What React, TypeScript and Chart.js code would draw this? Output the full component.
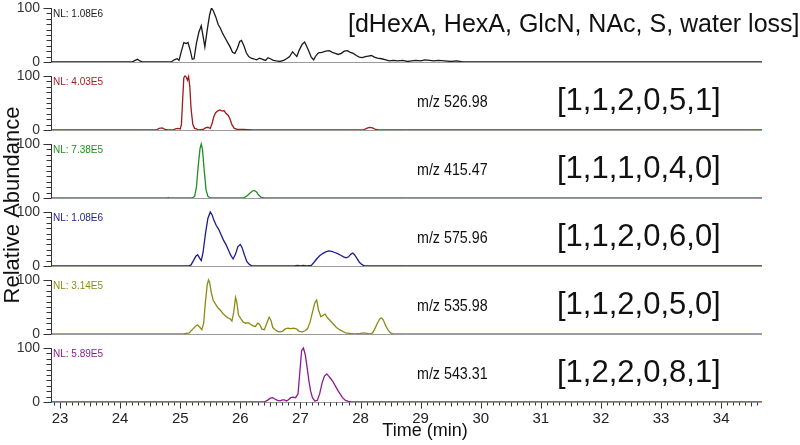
import React, { useEffect, useRef } from 'react';
import { Chart, registerables } from 'chart.js';

Chart.register(...registerables);

// ---- data ----
const xTicks = [23, 24, 25, 26, 27, 28, 29, 30, 31, 32, 33, 34];

const t1 = [22.85, 24.2, 24.25, 24.29, 24.33, 24.38, 24.85, 24.9, 24.95, 24.98, 25.02, 25.06, 25.1, 25.13, 25.17, 25.2, 25.23, 25.27, 25.31, 25.35, 25.38, 25.41, 25.45, 25.49, 25.52, 25.55, 25.59, 25.63, 25.67, 25.71, 25.75, 25.79, 25.83, 25.87, 25.91, 25.95, 25.99, 26.02, 26.06, 26.1, 26.14, 26.18, 26.22, 26.27, 26.32, 26.37, 26.42, 26.46, 26.5, 26.55, 26.6, 26.66, 26.72, 26.77, 26.82, 26.87, 26.9, 26.94, 26.98, 27.03, 27.07, 27.1, 27.14, 27.18, 27.22, 27.26, 27.3, 27.36, 27.42, 27.48, 27.53, 27.58, 27.63, 27.68, 27.73, 27.78, 27.83, 27.88, 27.93, 27.98, 28.03, 28.08, 28.13, 28.18, 28.23, 28.28, 28.35, 28.42, 28.48, 28.55, 28.62, 28.7, 28.78, 28.85, 28.92, 29.0, 29.07, 29.15, 29.22, 29.3, 29.4, 29.5, 29.6, 29.7, 34.68];
const v1 = [0, 0, 3, 5, 2, 0, 0, 4, 6, 3, 20, 36, 34, 36, 20, 5, 6, 35, 55, 67, 48, 28, 60, 88, 100, 95, 84, 70, 62, 52, 44, 36, 28, 18, 16, 25, 38, 40, 30, 17, 10, 7, 6, 4, 7, 5, 3, 8, 6, 3, 2, 1, 3, 6, 10, 19, 15, 10, 22, 33, 37, 30, 20, 9, 4, 12, 17, 18, 20, 21, 18, 16, 14, 16, 20, 21, 18, 16, 12, 9, 8, 10, 11, 12, 9, 7, 6, 4, 2, 3, 2, 3, 1, 2, 3, 2, 4, 3, 2, 3, 2, 1, 2, 0, 0];

const t2 = [22.85, 24.6, 24.65, 24.7, 24.75, 24.8, 24.88, 24.92, 24.96, 25.0, 25.02, 25.04, 25.06, 25.08, 25.1, 25.12, 25.14, 25.16, 25.18, 25.21, 25.24, 25.27, 25.3, 25.38, 25.42, 25.46, 25.5, 25.53, 25.56, 25.59, 25.62, 25.66, 25.7, 25.73, 25.76, 25.8, 25.83, 25.86, 25.9, 25.95, 26.05, 26.2, 28.05, 28.1, 28.15, 28.2, 28.25, 28.3, 34.68];
const v2 = [0, 0, 3, 4, 1, 0, 0, 2, 3, 2, 10, 55, 97, 100, 98, 92, 99, 80, 40, 10, 3, 2, 0, 1, 4, 5, 3, 12, 25, 32, 35, 37, 35, 36, 31, 27, 20, 10, 3, 1, 1, 0, 0, 3, 5, 4, 1, 0, 0];

const t3 = [22.85, 24.78, 24.8, 24.82, 25.2, 25.24, 25.27, 25.3, 25.33, 25.35, 25.37, 25.4, 25.43, 25.46, 25.5, 26.05, 26.1, 26.15, 26.2, 26.23, 26.27, 26.31, 26.35, 26.4, 34.68];
const v3 = [0, 0, 1, 0, 0, 3, 20, 60, 92, 100, 90, 50, 15, 3, 0, 0, 3, 8, 13, 14, 11, 5, 1, 0, 0];

const t4 = [22.85, 25.14, 25.18, 25.22, 25.26, 25.29, 25.32, 25.35, 25.38, 25.42, 25.46, 25.5, 25.53, 25.56, 25.6, 25.64, 25.68, 25.72, 25.76, 25.8, 25.84, 25.88, 25.92, 25.96, 26.0, 26.03, 26.07, 26.11, 26.15, 26.2, 26.9, 26.95, 27.0, 27.05, 27.1, 27.18, 27.22, 27.27, 27.32, 27.37, 27.42, 27.47, 27.52, 27.57, 27.62, 27.67, 27.72, 27.76, 27.8, 27.84, 27.87, 27.9, 27.94, 27.98, 28.03, 28.08, 34.68];
const v4 = [0, 0, 2, 10, 18, 21, 15, 10, 25, 60, 88, 100, 95, 85, 75, 68, 58, 48, 40, 30, 20, 13, 22, 36, 40, 34, 20, 8, 3, 0, 0, 1, 0, 1, 0, 1, 6, 13, 19, 23, 26, 28, 27, 25, 23, 20, 17, 15, 17, 22, 24, 21, 14, 7, 2, 0, 0];

const t5 = [22.85, 25.05, 25.1, 25.15, 25.2, 25.25, 25.29, 25.33, 25.36, 25.39, 25.42, 25.45, 25.47, 25.49, 25.52, 25.55, 25.59, 25.63, 25.67, 25.71, 25.75, 25.79, 25.83, 25.86, 25.89, 25.92, 25.94, 25.97, 26.01, 26.05, 26.09, 26.13, 26.17, 26.21, 26.25, 26.29, 26.32, 26.36, 26.4, 26.44, 26.48, 26.51, 26.54, 26.58, 26.62, 26.66, 26.7, 26.74, 26.79, 26.84, 26.89, 26.94, 26.98, 27.03, 27.08, 27.12, 27.16, 27.2, 27.24, 27.27, 27.3, 27.34, 27.38, 27.41, 27.45, 27.5, 27.55, 27.6, 27.65, 27.7, 27.75, 27.82, 27.9, 28.0, 28.05, 28.1, 28.15, 28.2, 28.24, 28.28, 28.32, 28.35, 28.38, 28.42, 28.46, 28.5, 28.55, 34.68];
const v5 = [0, 0, 1, 2, 8, 14, 17, 12, 8, 20, 60, 92, 100, 95, 75, 62, 55, 48, 44, 38, 34, 30, 28, 24, 40, 68, 60, 35, 28, 22, 20, 21, 18, 15, 14, 20, 18, 9, 8, 20, 31, 25, 12, 8, 5, 4, 5, 9, 11, 10, 11, 9, 5, 4, 6, 10, 22, 40, 58, 63, 45, 32, 35, 37, 30, 24, 18, 12, 8, 5, 2, 1, 0, 1, 2, 1, 0, 2, 10, 20, 28, 30, 26, 15, 7, 2, 0, 0];

const t6 = [22.85, 26.4, 26.45, 26.5, 26.54, 26.58, 26.62, 26.66, 26.7, 26.73, 26.77, 26.8, 26.84, 26.88, 26.92, 26.96, 26.99, 27.02, 27.05, 27.08, 27.11, 27.14, 27.17, 27.2, 27.24, 27.28, 27.32, 27.36, 27.4, 27.44, 27.47, 27.5, 27.54, 27.58, 27.62, 27.66, 27.7, 27.75, 27.8, 27.85, 34.68];
const v6 = [0, 0, 3, 7, 8, 5, 3, 2, 4, 4, 2, 4, 8, 9, 8, 15, 55, 95, 100, 88, 65, 40, 20, 8, 2, 3, 15, 35, 48, 52, 48, 44, 38, 30, 22, 15, 8, 3, 1, 0, 0];

const times = [t1, t2, t3, t4, t5, t6];
const values = [v1, v2, v3, v4, v5, v6];
const colors = ['#1a1a1a', '#9e1b1b', '#1f901f', '#1c1c8e', '#8c8c14', '#8e1b8e'];
const nlLabels = ['NL: 1.08E6', 'NL: 4.03E5', 'NL: 7.38E5', 'NL: 1.08E6', 'NL: 3.14E5', 'NL: 5.89E5'];
const mzLabels = ['', 'm/z 526.98', 'm/z 415.47', 'm/z 575.96', 'm/z 535.98', 'm/z 543.31'];
const compLabels = ['[dHexA, HexA, GlcN, NAc, S, water loss]', '[1,1,2,0,5,1]', '[1,1,1,0,4,0]', '[1,1,2,0,6,0]', '[1,1,2,0,5,0]', '[1,2,2,0,8,1]'];

const SANS = '"Liberation Sans", Arial, sans-serif';

const decorPlugin = {
  id: 'decor',
  afterDraw(chart: any) {
    const ctx = chart.ctx as CanvasRenderingContext2D;
    const area = chart.chartArea;
    ctx.save();
    // y axes
    for (let i = 0; i < 6; i++) {
      const s = chart.scales['y' + i];
      const x = Math.round(area.left) + 0.5;
      const yTop = s.getPixelForValue(100);
      const y0 = s.getPixelForValue(0);
      ctx.strokeStyle = '#333';
      ctx.lineWidth = 1;
      ctx.beginPath();
      ctx.moveTo(x, yTop);
      ctx.lineTo(x, y0);
      for (let v = 0; v <= 100; v += 10) {
        const y = Math.round(s.getPixelForValue(v)) + 0.5;
        const len = v === 0 || v === 100 ? 8 : 5;
        ctx.moveTo(x - len, y);
        ctx.lineTo(x, y);
      }
      ctx.stroke();

      // NL label
      ctx.fillStyle = i === 0 ? '#222' : colors[i];
      ctx.font = '10px ' + SANS;
      ctx.textBaseline = 'middle';
      ctx.textAlign = 'left';
      ctx.fillText(nlLabels[i], area.left + 2, yTop + 6);

      const mid = yTop + (y0 - yTop) * 0.48;
      ctx.fillStyle = '#111';
      if (i === 0) {
        ctx.font = '25px ' + SANS;
        ctx.fillText(compLabels[i], 348, yTop + 17);
      } else {
        ctx.save();
        ctx.translate(417, mid);
        ctx.scale(0.84, 1);
        ctx.font = '17px ' + SANS;
        ctx.fillText(mzLabels[i], 0, 0);
        ctx.restore();
        ctx.font = '31px ' + SANS;
        ctx.fillText(compLabels[i], 557, mid);
      }
    }
    // x minor ticks
    const xs = chart.scales.x;
    const yb = Math.round(area.bottom) + 0.5;
    ctx.strokeStyle = '#333';
    ctx.beginPath();
    for (let k = 229; k <= 346; k++) {
      const px = Math.round(xs.getPixelForValue(k / 10)) + 0.5;
      const len = k % 10 === 0 ? 6 : k % 5 === 0 ? 4 : 3;
      ctx.moveTo(px, yb);
      ctx.lineTo(px, yb + len);
    }
    ctx.stroke();

    // axis titles
    ctx.fillStyle = '#111';
    ctx.font = '18px ' + SANS;
    ctx.textAlign = 'center';
    ctx.textBaseline = 'middle';
    ctx.fillText('Time (min)', 425, 431);

    ctx.translate(13, 205);
    ctx.rotate(-Math.PI / 2);
    ctx.font = '22px ' + SANS;
    ctx.fillText('Relative Abundance', 0, 0);
    ctx.restore();
  },
};

export default function App() {
  const ref = useRef<HTMLCanvasElement | null>(null);
  useEffect(() => {
    if (!ref.current) return;
    const datasets = times.map((tt, i) => ({
      label: 'trace' + i,
      data: tt.map((x, j) => ({ x, y: values[i][j] })),
      yAxisID: 'y' + i,
      borderColor: colors[i],
      borderWidth: 1.3,
      pointRadius: 0,
      fill: false,
      tension: 0,
    }));
    const scales: any = {
      x: {
        type: 'linear',
        position: 'bottom',
        min: 22.85,
        max: 34.68,
        border: { display: false },
        grid: { display: false, drawTicks: false },
        ticks: { font: { size: 15, family: SANS }, color: '#222', padding: 8, maxRotation: 0, autoSkip: false },
        afterBuildTicks: (a: any) => { a.ticks = xTicks.map((v) => ({ value: v })); },
        afterFit: (s: any) => { s.height = 43; s.paddingLeft = 0; s.paddingRight = 0; },
      },
    };
    for (let i = 0; i < 6; i++) {
      scales['y' + i] = {
        type: 'linear',
        position: 'left',
        stack: 'panels',
        stackWeight: i === 0 ? 54 : 68,
        weight: 6 - i,
        min: 0,
        max: i === 0 ? 100 : 126,
        offset: false,
        border: { display: false },
        grid: {
          drawTicks: false,
          color: (c: any) => (c.tick && c.tick.value === 0 ? '#9a9a9a' : 'rgba(0,0,0,0)'),
          lineWidth: 1,
        },
        ticks: { font: { size: 14, family: SANS }, color: '#333', padding: 11 },
        afterBuildTicks: (a: any) => { a.ticks = [{ value: 0 }, { value: 100 }]; },
        afterFit: (s: any) => { s.width = 51; s.paddingTop = 0; s.paddingBottom = 0; },
      };
    }
    const chart = new Chart(ref.current, {
      type: 'line',
      data: { datasets },
      options: {
        responsive: false,
        animation: false,
        devicePixelRatio: 1,
        layout: { padding: { top: 8, right: 38, bottom: 0, left: 0 } },
        plugins: { legend: { display: false }, tooltip: { enabled: false } },
        scales,
      },
      plugins: [decorPlugin],
    } as any);
    return () => chart.destroy();
  }, []);
  return (
    <div style={{ position: 'fixed', left: 0, top: 0, width: 800, height: 445, background: '#fff' }}>
      <canvas ref={ref} width={800} height={445} />
    </div>
  );
}
